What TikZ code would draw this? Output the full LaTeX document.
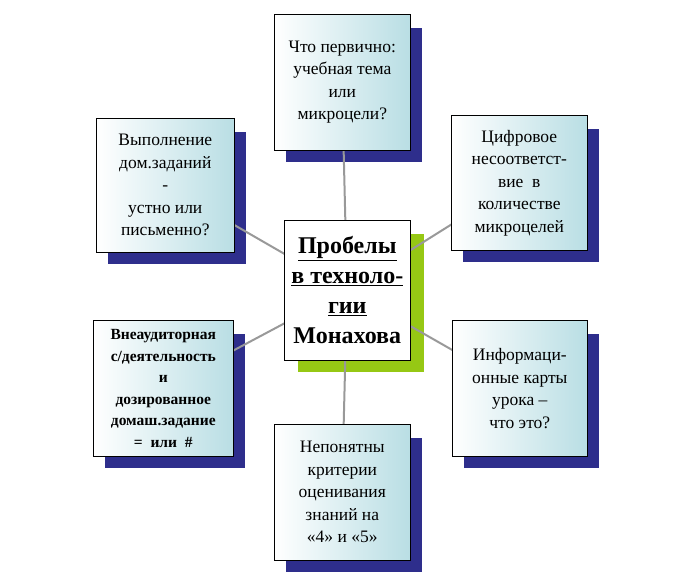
\documentclass[tikz,border=0pt]{standalone}
\usepackage{fontspec}
\setmainfont{Liberation Serif}
\definecolor{navy}{RGB}{46,46,140}
\definecolor{lime}{RGB}{150,200,20}
\definecolor{teal1}{RGB}{185,222,228}
\begin{document}
\begin{tikzpicture}[x=1pt,y=-1pt,
  box/.style={draw=black,line width=0.6pt,left color=white,right color=teal1,minimum width=136pt,minimum height=135pt,align=center,font=\fontsize{17.5}{22.5}\selectfont,anchor=north west,inner sep=2pt},
  conn/.style={draw=gray!80,line width=2pt}]
\useasboundingbox (0,0) rectangle (684,576);
% shadows
\foreach \x/\y/\w/\h in {274/14/136/136,96/118/138/134,451/115/136/135,93/320/140/136,452/320/135/136,274/424/136/136}{
  \fill[navy] (\x+12,\y+14) rectangle (\x+\w+12,\y+\h+12);
}
\fill[lime] (298,234) rectangle (424,372);
% connectors
\coordinate (c) at (347,290);
\coordinate (t) at (342,82);
\coordinate (tl) at (165,185);
\coordinate (tr) at (519,182);
\coordinate (bl) at (163,388);
\coordinate (br) at (519,388);
\coordinate (b) at (342,492);
\foreach \p in {t,tl,tr,bl,br,b}{\draw[conn] (c) -- (\p);}
% boxes
\node[box,minimum width=136pt,minimum height=136pt] (nt) at (274,14) {Что первично:\\учебная тема\\или\\микроцели?};
\node[box,minimum width=138pt,minimum height=134pt] (ntl) at (96,118) {Выполнение\\дом.заданий\\-\\устно или\\письменно?};
\node[box,minimum width=136pt,minimum height=135pt] (ntr) at (451,115) {Цифровое\\несоответст-\\вие \ в\\количестве\\микроцелей};
\node[box,minimum width=140pt,minimum height=136pt,font=\bfseries\fontsize{15.5}{21.5}\selectfont] (nbl) at (93,320) {Внеаудиторная\\с/деятельность\\и\\дозированное\\домаш.задание\\= \ или \ \#};
\node[box,minimum width=135pt,minimum height=136pt] (nbr) at (452,320) {Информаци-\\онные карты\\урока --\\что это?};
\node[box,minimum width=136pt,minimum height=136pt] (nb) at (274,424) {Непонятны\\критерии\\оценивания\\знаний на\\«4» и «5»};
\node[draw=black,line width=0.6pt,fill=white,minimum width=126pt,minimum height=140pt,anchor=north west,align=center,inner sep=1pt,font=\bfseries\fontsize{24}{30}\selectfont] (nc) at (284,220) {\underline{Пробелы}\\\underline{в техноло-}\\\underline{гии}\\Монахова};
\end{tikzpicture}
\end{document}
